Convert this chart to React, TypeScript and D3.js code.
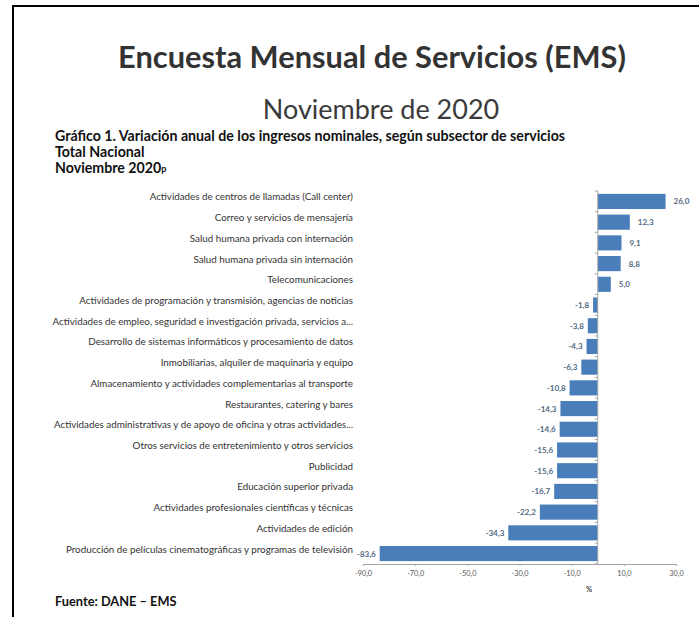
import React, { useEffect, useRef } from 'react'
import * as d3 from 'd3'

// Gráfico 1 - variación anual ingresos nominales por subsector (Nov 2020)
const categories = [
  'Actividades de centros de llamadas (Call center)',
  'Correo y servicios de mensajería',
  'Salud humana privada con internación',
  'Salud humana privada sin internación',
  'Telecomunicaciones',
  'Actividades de programación y transmisión,  agencias de noticias',
  'Actividades de empleo, seguridad e investigación privada, servicios a...',
  'Desarrollo de sistemas informáticos y procesamiento de datos',
  'Inmobiliarias, alquiler de maquinaria y equipo',
  'Almacenamiento y actividades complementarias al transporte',
  'Restaurantes, catering y bares',
  'Actividades administrativas y de apoyo de oficina y otras actividades...',
  'Otros servicios de entretenimiento y otros servicios',
  'Publicidad',
  'Educación superior privada',
  'Actividades profesionales científicas y técnicas',
  'Actividades de edición',
  'Producción de películas cinematográficas y programas de televisión',
]
const values = [26.0, 12.3, 9.1, 8.8, 5.0, -1.8, -3.8, -4.3, -6.3, -10.8, -14.3, -14.6, -15.6, -15.6, -16.7, -22.2, -34.3, -83.6]
const xTicks = [-90, -70, -50, -30, -10, 10, 30]

const W = 699
const H = 617
const font = 'Lato, "Open Sans", sans-serif'

const fmt = (v: number) => v.toFixed(1).replace('.', ',')

const App = () => {
  const refSvg = useRef<SVGSVGElement>(null)

  useEffect(() => {
    const svg = d3.select(refSvg.current)
    svg.selectAll('*').remove()

    // frame
    svg.append('line').attr('x1', 13).attr('x2', W).attr('y1', 6).attr('y2', 6).attr('stroke', '#000').attr('stroke-width', 2)
    svg.append('line').attr('x1', 13).attr('x2', 13).attr('y1', 5).attr('y2', H).attr('stroke', '#000').attr('stroke-width', 2)

    svg.append('text').attr('x', 372).attr('y', 68).attr('text-anchor', 'middle')
      .attr('font-family', font).attr('font-weight', 700).attr('font-size', 30.8).attr('fill', '#333')
      .text('Encuesta Mensual de Servicios (EMS)')
    svg.append('text').attr('x', 381).attr('y', 119).attr('text-anchor', 'middle')
      .attr('font-family', font).attr('font-weight', 400).attr('font-size', 27).attr('fill', '#3a3a3a')
      .text('Noviembre de 2020')

    const sub = svg.append('g').attr('font-family', font).attr('font-weight', 700).attr('font-size', 14.2).attr('fill', '#111')
    sub.append('text').attr('x', 55).attr('y', 141).text('Gráfico 1. Variación anual de los ingresos nominales, según subsector de servicios')
    sub.append('text').attr('x', 55).attr('y', 157).text('Total Nacional')
    const nov = sub.append('text').attr('x', 55).attr('y', 173).text('Noviembre 2020')
    nov.append('tspan').attr('font-size', 9).attr('dy', -1).text('p')

    svg.append('text').attr('x', 55).attr('y', 606).attr('font-family', font).attr('font-weight', 700)
      .attr('font-size', 12.8).attr('fill', '#111').text('Fuente: DANE – EMS')

    // chart
    const x = d3.scaleLinear().domain([-90, 30]).range([363, 676])
    const y = d3.scaleBand<string>().domain(categories).range([191, 564]).paddingInner(0.27).paddingOuter(0.14)

    const g = svg.append('g')

    g.selectAll('rect.bar')
      .data(values)
      .enter()
      .append('rect')
      .attr('class', 'bar')
      .attr('x', (d) => x(Math.min(0, d)))
      .attr('width', (d) => Math.abs(x(d) - x(0)))
      .attr('y', (d, i) => y(categories[i]) as number)
      .attr('height', y.bandwidth())
      .attr('fill', '#4a7ebb')

    // category labels
    g.selectAll('text.cat')
      .data(categories)
      .enter()
      .append('text')
      .attr('class', 'cat')
      .attr('x', 353)
      .attr('y', (d) => (y(d) as number) + y.bandwidth() / 2 - 1)
      .attr('text-anchor', 'end')
      .attr('font-family', font)
      .attr('font-size', 9.8)
      .attr('fill', '#333')
      .text((d) => d)

    // value labels
    g.selectAll('text.val')
      .data(values)
      .enter()
      .append('text')
      .attr('class', 'val')
      .attr('x', (d) => (d >= 0 ? x(d) + 8 : x(d) - 4))
      .attr('y', (d, i) => (y(categories[i]) as number) + y.bandwidth() / 2 + 3)
      .attr('text-anchor', (d) => (d >= 0 ? 'start' : 'end'))
      .attr('font-family', font)
      .attr('font-weight', 700)
      .attr('font-size', 8)
      .attr('fill', '#4f6a82')
      .text((d) => fmt(d))

    // x axis
    const xAxis = g.append('g').attr('transform', 'translate(0,564)')
      .call(d3.axisBottom(x).tickValues(xTicks).tickSize(2).tickFormat((d) => fmt(+d)))
    xAxis.select('.domain').attr('stroke', '#a6a6a6')
    xAxis.selectAll('.tick line').attr('stroke', '#a6a6a6')
    xAxis.selectAll('.tick text').attr('font-family', font).attr('font-size', 7.3).attr('fill', '#595959').attr('dy', '0.9em')

    // vertical axis at zero, with ticks at category boundaries
    g.append('line').attr('x1', x(0)).attr('x2', x(0)).attr('y1', 191).attr('y2', 564).attr('stroke', '#a6a6a6')
    const bounds = d3.range(categories.length + 1).map((i) => 191 + i * y.step())
    g.selectAll('line.ytick')
      .data(bounds)
      .enter()
      .append('line')
      .attr('class', 'ytick')
      .attr('x1', x(0) - 3)
      .attr('x2', x(0))
      .attr('y1', (d) => d)
      .attr('y2', (d) => d)
      .attr('stroke', '#a6a6a6')

    g.append('text').attr('x', 589).attr('y', 592).attr('text-anchor', 'middle')
      .attr('font-family', font).attr('font-weight', 700).attr('font-size', 7.5).attr('fill', '#444').text('%')
  }, [])

  return <svg ref={refSvg} width={W} height={H} style={{ position: 'absolute', left: 0, top: 0, background: '#fff' }} />
}

export default App
